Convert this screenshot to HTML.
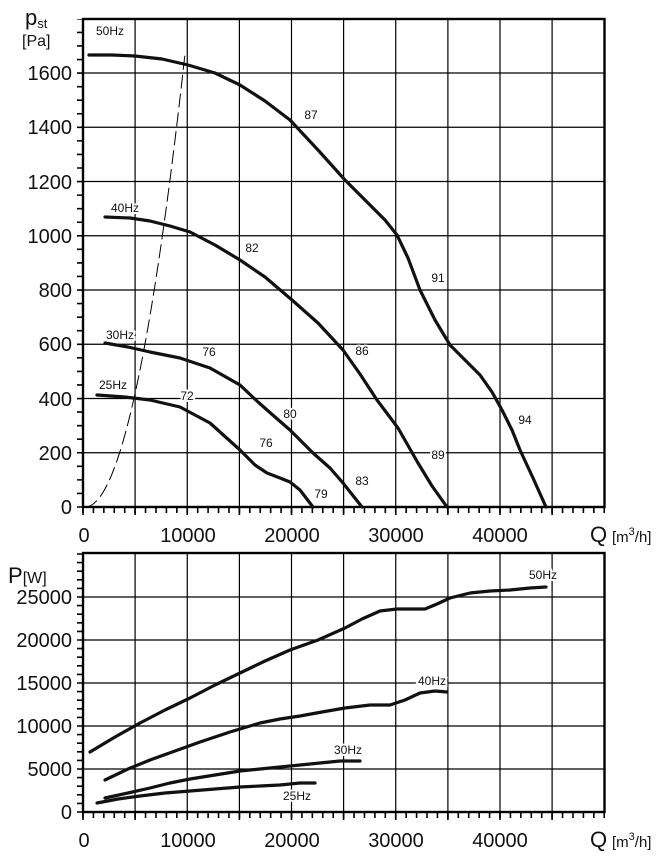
<!DOCTYPE html>
<html><head><meta charset="utf-8"><style>
html,body{margin:0;padding:0;background:#fff;}
svg{display:block;font-family:"Liberation Sans",sans-serif;}
</style></head><body>
<svg width="670" height="863" viewBox="0 0 670 863" xmlns="http://www.w3.org/2000/svg">
<g stroke="#000" stroke-width="1.2" fill="none">
<path d="M135.1,19V507M187.25,19V507M239.4,19V507M291.5,19V507M343.6,19V507M395.75,19V507M447.9,19V507M500,19V507M552.1,19V507"/>
<path d="M135.1,553V812M187.25,553V812M239.4,553V812M291.5,553V812M343.6,553V812M395.75,553V812M447.9,553V812M500,553V812M552.1,553V812"/>
<path d="M83,452.75H604.5M83,398.5H604.5M83,344.25H604.5M83,290H604.5M83,235.75H604.5M83,181.5H604.5M83,127.25H604.5M83,73H604.5"/>
<path d="M83,769H604.5M83,726H604.5M83,683H604.5M83,640H604.5M83,597H604.5"/>
<rect x="83" y="19" width="521.5" height="488" stroke-width="2.4"/>
<rect x="83" y="553" width="521.5" height="259" stroke-width="2.4"/>
<line x1="80" y1="507.8" x2="80" y2="19" stroke-width="6" stroke-dasharray="1.6 11.96"/>
<line x1="80" y1="812.8" x2="80" y2="553" stroke-width="6" stroke-dasharray="1.6 7"/>
<line x1="82.2" y1="510" x2="605" y2="510" stroke-width="6" stroke-dasharray="1.6 8.825"/>
<line x1="82.2" y1="815" x2="605" y2="815" stroke-width="6" stroke-dasharray="1.6 8.825"/>
<path stroke-width="1.6" d="M83,507v8M135.1,507v8M187.25,507v8M239.4,507v8M291.5,507v8M343.6,507v8M395.75,507v8M447.9,507v8M500,507v8M552.1,507v8M83,812v8M135.1,812v8M187.25,812v8M239.4,812v8M291.5,812v8M343.6,812v8M395.75,812v8M447.9,812v8M500,812v8M552.1,812v8"/>
</g>
<g stroke="#111" stroke-width="3.2" fill="none" stroke-linecap="round" stroke-linejoin="round">
<polyline points="89,55 112,55 135,56 162,59 188,65 215,73 240,85 265,101 290,120 318,150 345,180 370,205 385,220 397,235 408,258 420,290 435,320 450,345 465,360 480,375 492,392 502,410 512,430 520,450 533,478 546,507"/>
<polyline points="105,217 130,218 150,221 170,226 190,232 215,245 240,260 265,277 292,300 318,323 343,350 360,374 377,400 398,428 418,463 432,486 447,507"/>
<polyline points="105,343 128,347 150,352 180,358 210,368 240,385 258,402 275,417 290,430 313,453 330,468 343,483 362,507"/>
<polyline points="97,395 125,397 150,400 180,407 210,423 240,450 255,465 267,473 280,478 290,482 300,490 313,507"/>
<polyline points="90,752 115,737 140,723 165,710 190,698 215,685 240,673 265,661 290,650 318,640 345,628 362,619 380,611 397,609 412,609 425,609 437,604 450,598 470,593 490,591 510,590 530,588 546,587"/>
<polyline points="105,780 128,769 150,760 175,751 200,742 230,732 260,723 280,719 300,716 322,712 345,708 370,705 390,705 405,700 420,693 435,691 447,692"/>
<polyline points="105,798 128,793 150,788 170,783 190,779 215,775 240,771 260,769 280,767 310,764 340,761 360,761"/>
<polyline points="97,803 118,799 140,796 165,793 190,791 215,789 240,787 260,786 280,785 300,783 315,783"/>
</g>
<path d="M85,507 Q135.05,507 185.1,53" fill="none" stroke="#000" stroke-width="1" stroke-dasharray="14,5"/>
<g font-size="20" text-anchor="end" fill="#111">
<text x="72" y="514">0</text><text x="72" y="460">200</text><text x="72" y="406">400</text><text x="72" y="351">600</text><text x="72" y="297">800</text><text x="72" y="243">1000</text><text x="72" y="189">1200</text><text x="72" y="134">1400</text><text x="72" y="80">1600</text>
<text x="72" y="819">0</text><text x="72" y="776">5000</text><text x="72" y="733">10000</text><text x="72" y="690">15000</text><text x="72" y="647">20000</text><text x="72" y="604">25000</text>
</g>
<g font-size="20" text-anchor="middle" fill="#111">
<text x="84" y="542">0</text><text x="188" y="542">10000</text><text x="292" y="542">20000</text><text x="396" y="542">30000</text><text x="500" y="542">40000</text>
<text x="84" y="847">0</text><text x="188" y="847">10000</text><text x="292" y="847">20000</text><text x="396" y="847">30000</text><text x="500" y="847">40000</text>
</g>
<g fill="#111">
<text x="590" y="542" font-size="22">Q</text><text x="612" y="542" font-size="15">[m<tspan dy="-7" font-size="11">3</tspan><tspan dy="7">/h]</tspan></text>
<text x="590" y="847" font-size="22">Q</text><text x="612" y="847" font-size="15">[m<tspan dy="-7" font-size="11">3</tspan><tspan dy="7">/h]</tspan></text>
<text x="25" y="25" font-size="22">p<tspan font-size="13" dy="3">st</tspan></text>
<text x="22" y="46" font-size="16">[Pa]</text>
<text x="8" y="583" font-size="22">P<tspan font-size="16">[W]</tspan></text>
</g>
<g font-size="12" fill="#111" text-anchor="middle" stroke="#fff" stroke-width="4" paint-order="stroke">
<text x="110" y="35">50Hz</text><text x="125" y="212">40Hz</text><text x="120" y="339">30Hz</text><text x="113" y="389">25Hz</text>
<text x="311" y="119">87</text><text x="438" y="282">91</text><text x="525" y="424">94</text>
<text x="252" y="252">82</text><text x="362" y="355">86</text><text x="438" y="459">89</text>
<text x="209" y="356">76</text><text x="290" y="418">80</text><text x="362" y="485">83</text>
<text x="187" y="400">72</text><text x="266" y="447">76</text><text x="321" y="498">79</text>
<text x="543" y="579">50Hz</text><text x="432" y="685">40Hz</text><text x="348" y="754">30Hz</text><text x="297" y="800">25Hz</text>
</g>
</svg>
</body></html>
